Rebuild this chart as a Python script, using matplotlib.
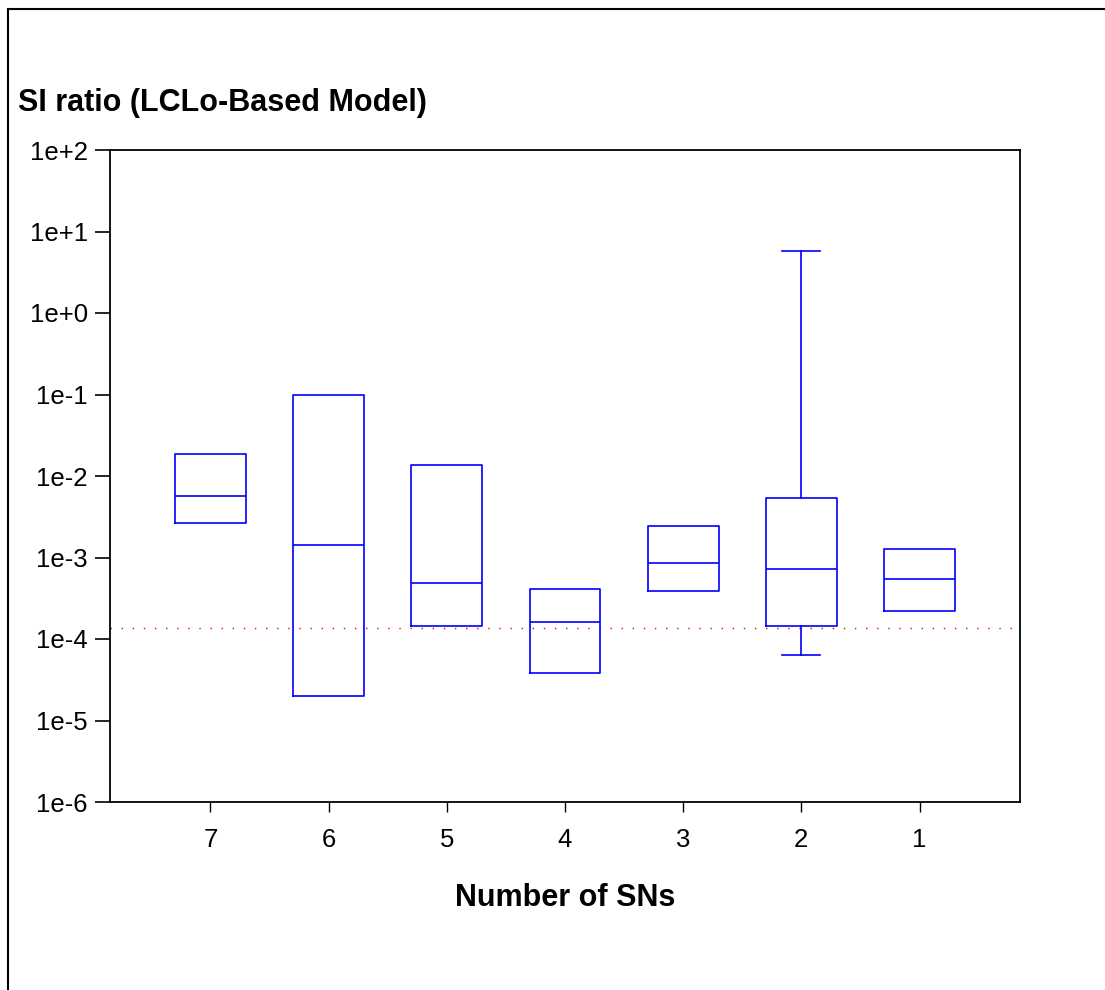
import matplotlib
matplotlib.use("Agg")
import matplotlib.pyplot as plt
from matplotlib.lines import Line2D
from matplotlib.ticker import FixedLocator, FixedFormatter, NullLocator

plt.rcParams['font.family'] = ['Liberation Sans', 'DejaVu Sans']

# DATOS
# -------------------------
sn_labels = ["7", "6", "5", "4", "3", "2", "1"]
q1 = [2.65e-3, 2.0e-5, 1.45e-4, 3.8e-5, 3.9e-4, 1.45e-4, 2.2e-4]
medians = [5.7e-3, 1.42e-3, 4.9e-4, 1.62e-4, 8.5e-4, 7.3e-4, 5.4e-4]
q3 = [1.86e-2, 9.9e-2, 1.36e-2, 4.1e-4, 2.45e-3, 5.3e-3, 1.27e-3]
whisker_low = [2.65e-3, 2.0e-5, 1.45e-4, 3.8e-5, 3.9e-4, 6.3e-5, 2.2e-4]
whisker_high = [1.86e-2, 9.9e-2, 1.36e-2, 4.1e-4, 2.45e-3, 5.8, 1.27e-3]
threshold = 1.37e-4

ytick_values = [1e-6, 1e-5, 1e-4, 1e-3, 1e-2, 1e-1, 1e0, 1e1, 1e2]
ytick_labels = ["1e-6", "1e-5", "1e-4", "1e-3", "1e-2", "1e-1", "1e+0", "1e+1", "1e+2"]

# FIGURA
# -------------------------
fig = plt.figure(figsize=(11.05, 9.9), dpi=100)
ax = fig.add_axes([110 / 1105, 1 - 802 / 990, 910 / 1105, 652 / 990])

# marco de la figura (solo arriba e izquierda visibles)
x0 = 8 / 1105
y0 = 1 - 9 / 990
fig.add_artist(Line2D([x0, 1.0], [y0, y0], color="black", lw=1.5, transform=fig.transFigure))
fig.add_artist(Line2D([x0, x0], [0.0, y0], color="black", lw=1.5, transform=fig.transFigure))

stats = []
for i in range(len(sn_labels)):
    stats.append({
        "label": sn_labels[i],
        "med": medians[i],
        "q1": q1[i],
        "q3": q3[i],
        "whislo": whisker_low[i],
        "whishi": whisker_high[i],
    })

blue = dict(color="#0000ff", linewidth=1.2)
positions = list(range(len(sn_labels)))

ax.axhline(threshold, color="red", lw=1.0, linestyle=(0, (1, 7)), zorder=1)

# cajas sin bigotes y caja con bigotes por separado
plain = [i for i in positions if whisker_low[i] == q1[i] and whisker_high[i] == q3[i]]
whisk = [i for i in positions if i not in plain]

ax.bxp([stats[i] for i in plain], positions=plain, widths=0.6, showfliers=False,
       showcaps=False, boxprops=blue, medianprops=blue, whiskerprops=blue)
ax.bxp([stats[i] for i in whisk], positions=whisk, widths=0.6, capwidths=0.32,
       showfliers=False, boxprops=blue, medianprops=blue, whiskerprops=blue, capprops=blue)

ax.set_yscale("log")
ax.set_ylim(1e-6, 1e2)
ax.set_xlim(-0.85, 6.85)
ax.yaxis.set_major_locator(FixedLocator(ytick_values))
ax.yaxis.set_major_formatter(FixedFormatter(ytick_labels))
ax.yaxis.set_minor_locator(NullLocator())
ax.set_xticks(positions)
ax.set_xticklabels(sn_labels)

for s in ax.spines.values():
    s.set_linewidth(1.3)

ax.tick_params(axis="y", length=11, width=1.2, labelsize=18.5, pad=5)
ax.tick_params(axis="x", length=7, width=1.0, labelsize=18.5, pad=12)

ax.set_xlabel("Number of SNs", fontsize=22, fontweight="bold", labelpad=22)
fig.text(18 / 1105, 1 - 103 / 990, "SI ratio (LCLo-Based Model)", fontsize=22,
         fontweight="bold", ha="left", va="center")

fig.savefig("out.png", dpi=100)
